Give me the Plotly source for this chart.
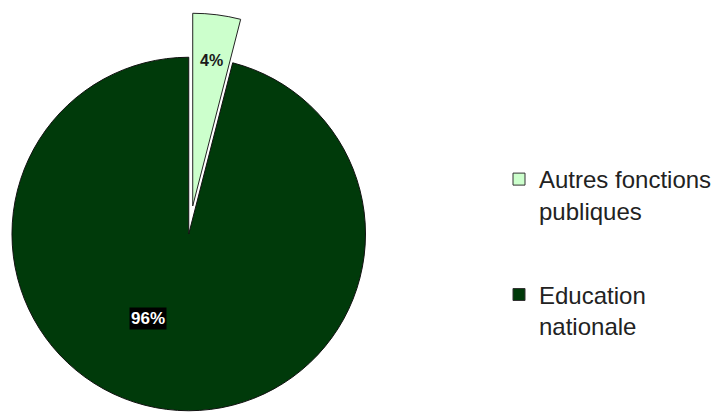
import plotly.graph_objects as go

# Data
categories = ["Autres fonctions publiques", "Education nationale"]
legend_labels = ["Autres fonctions<br>publiques", "Education<br>nationale"]
values = [4, 96]
colors = ["#ccffcc", "#003a0a"]

total = sum(values)
pct = [round(v * 100 / total) for v in values]

W, H = 717, 415
FONT = "Arial, Liberation Sans, sans-serif"

fig = go.Figure()

# Main pie (Education slice visible, the other slice left blank)
fig.add_trace(go.Pie(
    labels=categories, values=values, sort=False, direction="clockwise", rotation=0,
    marker=dict(colors=["rgba(255,255,255,0)", colors[1]],
                line=dict(color=["rgba(0,0,0,0)", "#111111"], width=[0, 1])),
    textinfo="none", hoverinfo="label+percent", showlegend=False,
    domain=dict(x=[12 / W, 366 / W], y=[4 / H, 358 / H]),
))

# Exploded slice drawn larger on top
fig.add_trace(go.Pie(
    labels=categories, values=values, sort=False, direction="clockwise", rotation=0,
    marker=dict(colors=[colors[0], "rgba(0,0,0,0)"],
                line=dict(color=["#222222", "rgba(0,0,0,0)"], width=[1, 0])),
    textinfo="none", hoverinfo="label+percent", showlegend=False,
    domain=dict(x=[0, 386 / W], y=[16 / H, 402 / H]),
))

# Legend entries
for i, (lab, col) in enumerate(zip(legend_labels, colors)):
    fig.add_trace(go.Scatter(
        x=[None], y=[None], mode="markers", name=lab, legendgroup=f"g{i}",
        marker=dict(symbol="square", size=12, color=col,
                    line=dict(color="#333333", width=1)),
    ))

fig.add_annotation(x=212 / W, y=(H - 60) / H, xref="paper", yref="paper",
                   xanchor="center", yanchor="middle",
                   text=f"<b>{pct[0]}%</b>", showarrow=False,
                   font=dict(family=FONT, size=16, color="#1a1a1a"))
fig.add_annotation(x=148 / W, y=(H - 318) / H, xref="paper", yref="paper",
                   xanchor="center", yanchor="middle",
                   text=f"<b>{pct[1]}%</b>", showarrow=False, bgcolor="#000000",
                   borderpad=1,
                   font=dict(family=FONT, size=17, color="#ffffff"))

fig.update_layout(
    width=W, height=H,
    margin=dict(l=0, r=0, t=0, b=0),
    paper_bgcolor="white", plot_bgcolor="white",
    xaxis=dict(visible=False), yaxis=dict(visible=False),
    showlegend=True,
    legend=dict(x=500 / W, y=(H - 157) / H, xanchor="left", yanchor="top",
                valign="top", tracegroupgap=50, itemwidth=30,
                bgcolor="rgba(0,0,0,0)",
                font=dict(family=FONT, size=24, color="#222222")),
)

fig.write_html("out.html", config={"displayModeBar": False},
               post_script="document.body.style.margin='0';")
